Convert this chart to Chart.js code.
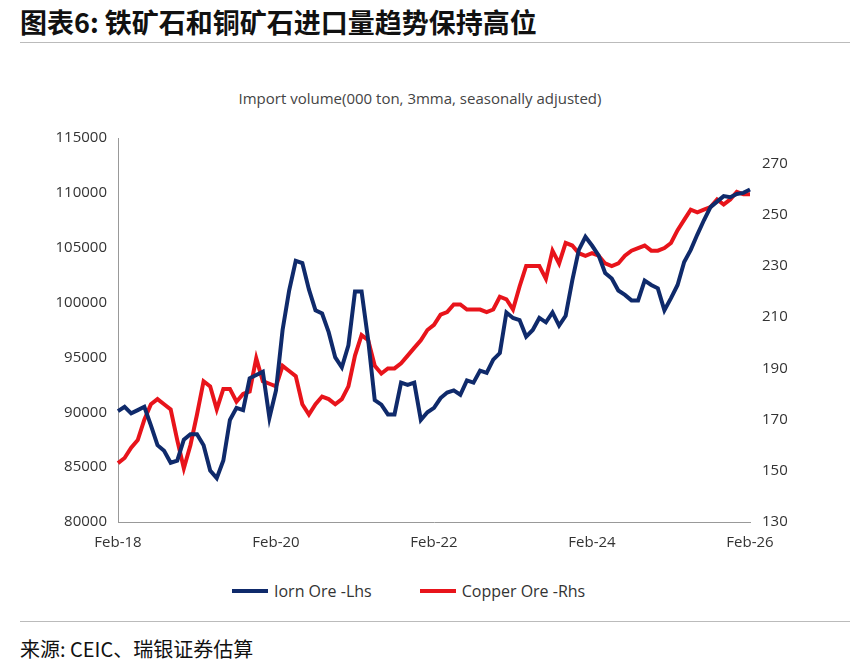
<!DOCTYPE html>
<html><head><meta charset="utf-8">
<script src="https://cdn.jsdelivr.net/npm/chart.js@4"></script>
<style>
body{margin:0;background:#fff;font-family:"Noto Sans CJK SC","Open Sans",sans-serif;}
#title{position:absolute;left:20px;top:2px;font-size:27px;font-weight:bold;color:#111;}
#rule1{position:absolute;left:20px;top:42px;width:830px;border-top:1px solid #bbb;}
#sub{position:absolute;left:0;width:840px;top:88px;text-align:center;font:15px "Open Sans",sans-serif;color:#444;}
#legend{position:absolute;top:578px;left:232px;font:16px "Open Sans",sans-serif;color:#333;}
#legend span{display:inline-block;vertical-align:middle;}
.sw{width:36px;height:4px;margin-right:6px;}
#rule2{position:absolute;left:20px;top:621px;width:830px;border-top:1px solid #bbb;}
#src{position:absolute;left:20px;top:634px;font-size:20px;color:#111;}
canvas{position:absolute;left:0;top:0;}
</style></head><body>
<div id="title">图表6: 铁矿石和铜矿石进口量趋势保持高位</div>
<div id="rule1"></div>
<div id="sub">Import volume(000 ton, 3mma, seasonally adjusted)</div>
<canvas id="c" width="866" height="570"></canvas>
<div id="legend"><span class="sw" style="background:#0f2a6b"></span><span style="margin-right:48px">Iorn Ore -Lhs</span><span class="sw" style="background:#e8141b"></span><span>Copper Ore -Rhs</span></div>
<div id="rule2"></div>
<div id="src">来源: CEIC、瑞银证券估算</div>
<script>
const startYear = 2018;
const ironOre = [90100,90500,89900,90200,90500,88800,87000,86500,85400,85600,87500,88000,88000,87000,84700,84000,85600,89300,90400,90200,93100,93400,93700,89500,92000,97500,101100,103800,103600,101200,99300,99000,97300,95000,94100,96100,101000,101000,96600,91100,90700,89800,89800,92700,92500,92700,89300,90000,90400,91300,91800,92000,91600,92900,92700,93800,93600,94800,95400,99100,98600,98400,96900,97500,98600,98200,99100,97900,98800,102000,104800,106000,105200,104300,102700,102200,101100,100700,100200,100200,102000,101600,101300,99300,100400,101600,103700,104800,106200,107500,108700,109200,109700,109600,109900,110000,110300];
const copperOre = [153,155,159,162,170,176,178,176,174,162,151,160,172,185,183,174,182,182,177,180,181,194,185,184,183,191,189,187,176,172,176,179,178,176,178,183,195,203,201,191,188,190,190,192,195,198,201,205,207,211,212,215,215,213,213,213,212,213,218,217,213,222,230,230,230,225,236,231,239,238,235,234,235,234,231,230,231,234,236,237,238,236,236,237,239,244,248,252,251,252,253,256,254,256,259,258,258];
const leftTicks = [80000,85000,90000,95000,100000,105000,110000,115000];
const rightTicks = [130,150,170,190,210,230,250,270];
const labels = [];
for (let i = 0; i < ironOre.length; i++) {
  const y = startYear + Math.floor(i / 12);
  labels.push(i % 24 === 0 ? 'Feb-' + String(y).slice(2) : '');
}
const tickFont = {family: '"Open Sans", sans-serif', size: 15};
new Chart(document.getElementById('c'), {
  type: 'line',
  data: {
    labels: labels,
    datasets: [
      {label: 'Iorn Ore -Lhs', data: ironOre, borderColor: '#0f2a6b', borderWidth: 4, pointRadius: 0, yAxisID: 'y', tension: 0},
      {label: 'Copper Ore -Rhs', data: copperOre, borderColor: '#e8141b', borderWidth: 4, pointRadius: 0, yAxisID: 'y1', tension: 0}
    ]
  },
  options: {
    responsive: false, animation: false,
    layout: {padding: {top: 138, left: 10, right: 0, bottom: 0}},
    plugins: {legend: {display: false}, tooltip: {enabled: false}},
    scales: {
      x: {
        grid: {display: false, drawTicks: false},
        border: {color: '#999'},
        ticks: {autoSkip: false, maxRotation: 0, color: '#333', font: tickFont, padding: 12,
          callback: (v, i) => labels[i]},
        afterFit: s => { s.height = 48; }
      },
      y: {
        position: 'left', min: 80000, max: 115000,
        afterBuildTicks: s => { s.ticks = leftTicks.map(v => ({value: v})); },
        ticks: {color: '#333', font: tickFont, padding: 6, callback: v => String(v)},
        grid: {display: false, drawOnChartArea: false, drawTicks: true, tickLength: 5},
        border: {color: '#999'},
        afterFit: s => { s.width = 108; }
      },
      y1: {
        position: 'right', min: 130, max: 280,
        afterBuildTicks: s => { s.ticks = rightTicks.map(v => ({value: v})); },
        ticks: {color: '#333', font: tickFont, padding: 12, callback: v => String(v)},
        grid: {display: false, drawOnChartArea: false, drawTicks: false},
        border: {display: false},
        afterFit: s => { s.width = 116; }
      }
    }
  }
});
</script>
</body></html>
